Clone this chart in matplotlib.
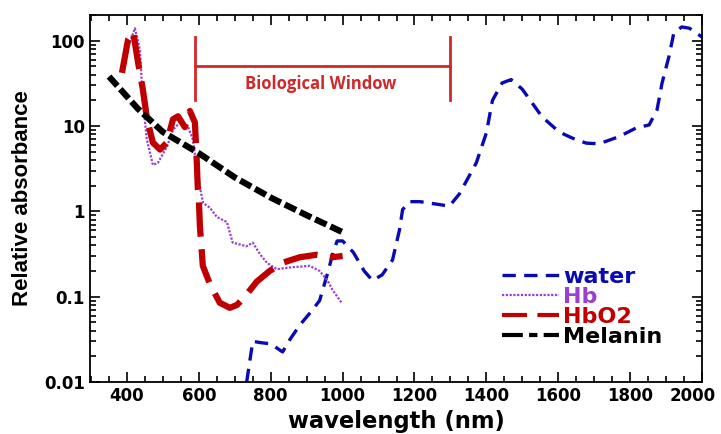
import numpy as np
import matplotlib.pyplot as plt
import matplotlib.transforms as mtransforms
from matplotlib.lines import Line2D

# values
water_nm = [733, 750, 770, 800, 833, 850, 880, 910, 936, 960, 975, 985, 1000, 1030, 1060, 1083, 1110,
            1139, 1158, 1167, 1186, 1215, 1242, 1270, 1297, 1325, 1350, 1372, 1400, 1417, 1444, 1469,
            1500, 1530, 1555, 1603, 1640, 1678, 1714, 1769, 1817, 1853, 1875, 1889, 1908, 1922, 1944,
            1965, 1983, 2000]
water_abs = [0.01, 0.03, 0.029, 0.028, 0.0225, 0.03, 0.046, 0.065, 0.09, 0.2, 0.35, 0.45, 0.45, 0.33,
             0.2, 0.155, 0.18, 0.27, 0.6, 1.05, 1.3, 1.3, 1.25, 1.2, 1.15, 1.6, 2.5, 3.7, 8.3, 20, 32,
             35, 27, 18, 12.8, 8.5, 7.2, 6.3, 6.2, 7.5, 9.5, 10.3, 15.5, 32, 65, 125, 145, 140, 125, 110]

hb_nm = [408, 422, 436, 444, 455, 472, 486, 511, 528, 547, 569, 583, 594, 603, 612, 631, 650, 678, 694,
         733, 750, 769, 789, 817, 853, 908, 936, 958, 972, 997]
hb_abs = [95, 140, 78, 20, 7, 3.5, 3.7, 5.7, 9, 11, 10, 7, 3.3, 1.9, 1.25, 1.1, 0.86, 0.75, 0.43,
          0.39, 0.43, 0.32, 0.25, 0.21, 0.22, 0.23, 0.2, 0.155, 0.12, 0.085]

hbo2_nm = [386, 403, 417, 431, 444, 456, 472, 492, 511, 528, 542, 561, 575, 589, 594, 597, 600, 603,
           611, 631, 658, 686, 706, 728, 761, 797, 833, 881, 928, 972, 1000]
hbo2_abs = [42, 103, 128, 55, 27, 12, 6.4, 5.3, 6.4, 12, 13, 9.7, 15, 11, 4, 1.9, 1.35, 0.66,
            0.23, 0.14, 0.085, 0.074, 0.08, 0.1, 0.15, 0.2, 0.25, 0.29, 0.31, 0.29, 0.3]

mel_nm = [350, 430, 500, 600, 700, 800, 900, 1000]
mel_abs = [38, 16, 8.5, 4.8, 2.5, 1.45, 0.9, 0.57]

window = [590, 1300]
labels = ["water", "Hb", "HbO2", "Melanin"]
colors = ["#0a0ab4", "#9b3fd0", "#c00000", "black"]

plt.rcParams['font.family'] = ['DejaVu Sans']
fig = plt.figure(figsize=(7.21, 4.34), dpi=100)
ax = fig.add_axes([0.1248, 0.1198, 0.8488, 0.8456])

ax.plot(water_nm, water_abs, color=colors[0], lw=2.4, dashes=(4, 2.5))
ax.plot(hb_nm, hb_abs, color=colors[1], lw=1.6, linestyle=(0, (1, 0.7)))
ax.plot(hbo2_nm, hbo2_abs, color=colors[2], lw=4.5, dashes=(5.5, 2))
ax.plot(mel_nm, mel_abs, color=colors[3], lw=4.5, dashes=(2, 0.7))

# biological window bracket
ax.plot(window, [51, 51], color="#d02828", lw=2)
ax.plot([window[0], window[0]], [20, 111], color="#d02828", lw=2)
ax.plot([window[1], window[1]], [20, 111], color="#d02828", lw=2)
ax.text(940, 31, "Biological Window", color="#d02828", fontsize=12, fontweight="bold",
        ha="center", va="center", family=["Open Sans", "DejaVu Sans"])

ax.set_yscale("log")
ax.set_xlim(297, 2000)
ax.set_ylim(0.01, 200)
ax.set_xticks(np.arange(400, 2001, 200))
ax.set_xticks(np.arange(300, 2001, 50), minor=True)
ax.set_yticks([0.01, 0.1, 1, 10, 100])
ax.set_yticklabels(["0.01", "0.1", "1", "10", "100"])
ax.tick_params(which="both", direction="in", top=True, right=True, labelsize=12, width=1.2)
ax.tick_params(which="major", length=7)
ax.tick_params(which="minor", length=4)
for lab in ax.get_xticklabels() + ax.get_yticklabels():
    lab.set_fontweight("bold")
# last x label sits a bit left of its tick, as in the reference
last = ax.get_xticklabels()[-1]
last.set_transform(last.get_transform() + mtransforms.ScaledTranslation(-0.09, 0, fig.dpi_scale_trans))
for s in ax.spines.values():
    s.set_linewidth(1.3)

ax.set_xlabel("wavelength (nm)", fontsize=16.3, fontweight="bold", labelpad=4)
ax.set_ylabel("Relative absorbance", fontsize=16, fontweight="bold", labelpad=8,
              family=["Liberation Sans", "DejaVu Sans"])

handles = [Line2D([], [], color=colors[0], lw=2.4, dashes=(4, 2.5)),
           Line2D([], [], color=colors[1], lw=1.6, linestyle=(0, (1, 0.7))),
           Line2D([], [], color=colors[2], lw=3, dashes=(6, 2.5)),
           Line2D([], [], color=colors[3], lw=3, dashes=(5, 1.5, 2, 1.5))]
leg = ax.legend(handles, labels, loc="upper left", bbox_to_anchor=(0.655, 0.344), frameon=False,
                handlelength=2.55, handletextpad=0.2, labelspacing=0.0, borderpad=0,
                prop={"weight": "bold", "size": 16})
for t, c in zip(leg.get_texts(), colors):
    t.set_color(c)

fig.savefig("out.png", dpi=100)
